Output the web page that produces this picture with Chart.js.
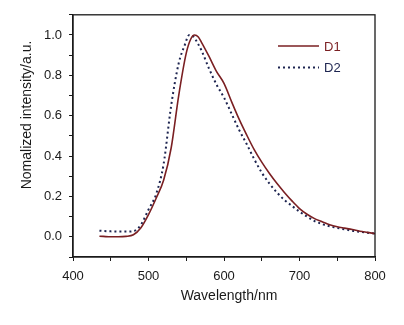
<!DOCTYPE html>
<html>
<head>
<meta charset="utf-8" />
<title>Emission spectra</title>
<script src="https://cdn.jsdelivr.net/npm/chart.js@4.4.0/dist/chart.umd.min.js"></script>
<style>
  body { margin: 0; background: #fff; }
  #box { width: 404px; height: 325px; }
</style>
</head>
<body>
<div id="box"><canvas id="spektr"></canvas></div>
<script>
// data
const wlD1 = [435,440,450,460,470,480,490,500,510,520,530,540,550,556,561,566,570,580,590,600,610,620,630,640,650,660,670,680,690,700,710,720,730,740,750,760,770,780,790,800];
const valD1 = [0.003,0.002,0.0,0.0,0.002,0.01,0.045,0.11,0.19,0.28,0.44,0.70,0.91,0.98,1.0,0.99,0.965,0.895,0.82,0.76,0.67,0.583,0.505,0.432,0.37,0.315,0.265,0.22,0.178,0.14,0.112,0.09,0.075,0.06,0.05,0.043,0.036,0.028,0.022,0.016];
const wlD2 = [435,450,460,470,480,490,500,510,520,530,540,548,554,560,565,570,580,590,600,610,620,630,640,650,660,670,680,690,700,710,720,730,740,750,760,770,780,790,800];
const valD2 = [0.03,0.027,0.026,0.026,0.028,0.06,0.135,0.21,0.36,0.65,0.86,0.95,1.0,0.99,0.96,0.925,0.835,0.755,0.69,0.61,0.53,0.46,0.385,0.318,0.265,0.22,0.183,0.153,0.125,0.1,0.078,0.063,0.052,0.044,0.037,0.03,0.025,0.02,0.016];
const xLabels = [400,500,600,700,800];
const yLabels = [0,0.2,0.4,0.6,0.8,1.0];

const font = "'Liberation Sans', Arial, sans-serif";
const ink = "#1a1a1a";

function pary(xs, ys){
  return xs.map((x,i)=>({x:x, y:ys[i]}));
}

// frame, axis titles and in-plot legend
const kast = {
  id: 'kast',
  afterDraw(chart){
    const c = chart.ctx, a = chart.chartArea;
    c.save();
    c.strokeStyle = ink;
    c.lineWidth = 1.3;
    c.strokeRect(a.left, a.top, a.right - a.left, a.bottom - a.top);

    c.fillStyle = ink;
    c.font = "14px " + font;
    c.textAlign = 'center';
    c.textBaseline = 'middle';
    c.fillText('Wavelength/nm', 229, 296);
    c.translate(27, 115);
    c.rotate(-Math.PI/2);
    c.fillText('Nomalized intensity/a.u.', 0, 0);
    c.restore();

    c.save();
    c.font = "13px " + font;
    c.textBaseline = 'middle';
    chart.data.datasets.forEach((ds, i)=>{
      const y = 46 + i*21.5;
      c.strokeStyle = ds.borderColor;
      c.lineWidth = ds.borderWidth;
      c.setLineDash(ds.borderDash || []);
      c.beginPath();
      c.moveTo(278, y);
      c.lineTo(319, y);
      c.stroke();
      c.fillStyle = ds.borderColor;
      c.fillText(ds.label, 324, y + 1);
    });
    c.restore();
  }
};

new Chart(document.getElementById('spektr'), {
  type: 'line',
  data: {
    datasets: [
      {
        label: 'D1',
        data: pary(wlD1, valD1),
        borderColor: '#7a1f22',
        borderWidth: 1.6,
        pointRadius: 0,
        cubicInterpolationMode: 'monotone'
      },
      {
        label: 'D2',
        data: pary(wlD2, valD2),
        borderColor: '#1d2450',
        borderWidth: 2,
        borderDash: [2, 3],
        pointRadius: 0,
        cubicInterpolationMode: 'monotone'
      }
    ]
  },
  options: {
    responsive: true,
    maintainAspectRatio: false,
    animation: false,
    layout: { padding: { top: 13, right: 29, left: 0, bottom: 0 } },
    plugins: { legend: { display: false }, tooltip: { enabled: false } },
    scales: {
      x: {
        type: 'linear',
        min: 400, max: 800,
        afterFit(s){ s.height = 68; },
        grid: { drawOnChartArea: false, tickLength: 4, color: ink },
        border: { color: ink, width: 1.3 },
        ticks: {
          stepSize: 50,
          padding: 8,
          maxRotation: 0,
          color: ink,
          font: { family: font, size: 13 },
          callback: v => xLabels.includes(v) ? String(v) : ''
        }
      },
      y: {
        min: -0.1, max: 1.1,
        afterFit(s){ s.width = 73; },
        grid: { drawOnChartArea: false, tickLength: 4, color: ink },
        border: { color: ink, width: 1.3 },
        ticks: {
          stepSize: 0.1,
          padding: 7,
          color: ink,
          font: { family: font, size: 13 },
          callback: v => {
            const r = Math.round(v*10)/10;
            return yLabels.some(t => Math.abs(t - r) < 1e-6) ? r.toFixed(1) : '';
          }
        }
      }
    }
  },
  plugins: [kast]
});
</script>
</body>
</html>
